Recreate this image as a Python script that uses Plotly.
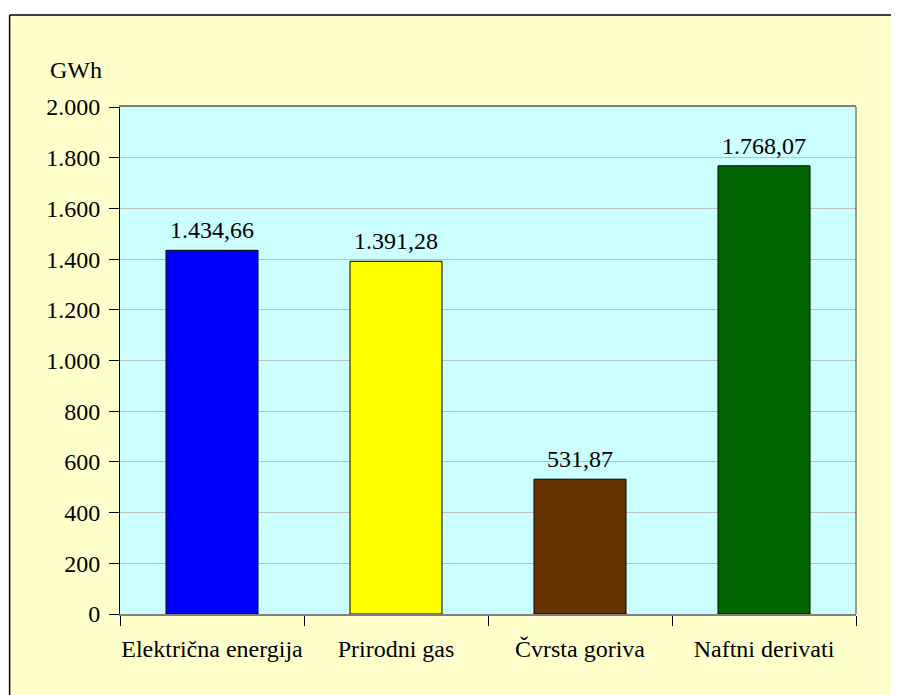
import plotly.graph_objects as go

categories = ["Električna energija", "Prirodni gas", "Čvrsta goriva", "Naftni derivati"]
values = [1434.66, 1391.28, 531.87, 1768.07]
bar_colors = ["#0000FF", "#FFFF00", "#663300", "#006600"]
y_ticks = list(range(0, 2001, 200))

FONT = "Liberation Serif, Times New Roman, serif"

fig = go.Figure()

fig.add_trace(go.Bar(
    x=categories,
    y=values,
    marker=dict(color=bar_colors, line=dict(color="#000000", width=1)),
    width=0.5,
    showlegend=False,
    hovertemplate="%{x}: %{y:,.2f} GWh<extra></extra>",
))

# value labels above the bars
for cat, val in zip(categories, values):
    fig.add_annotation(
        x=cat, y=val, text=f"{val:,.2f}".replace(",", " ").replace(".", ",").replace(" ", "."),
        xanchor="center", yanchor="bottom", yshift=5, showarrow=False,
        font=dict(family=FONT, size=24, color="#000000"),
    )

# white strips outside the chart frame (top and left), frame lines, plot bg
fig.add_shape(type="rect", xref="paper", yref="paper",
              x0=-0.5, x1=1.5, y0=1.1815, y1=1.5,
              fillcolor="#FFFFFF", line=dict(width=0), layer="below")
fig.add_shape(type="rect", xref="paper", yref="paper",
              x0=-0.5, x1=-0.150, y0=-0.5, y1=1.5,
              fillcolor="#FFFFFF", line=dict(width=0), layer="below")
fig.add_shape(type="line", xref="paper", yref="paper",
              x0=-0.150, x1=1.5, y0=1.1815, y1=1.1815,
              line=dict(color="#000000", width=1.5), layer="below")
fig.add_shape(type="line", xref="paper", yref="paper",
              x0=-0.150, x1=-0.150, y0=-0.5, y1=1.1815,
              line=dict(color="#000000", width=1.5), layer="below")
fig.add_shape(type="rect", xref="paper", yref="paper",
              x0=0, x1=1, y0=0, y1=1,
              fillcolor="#CCFFFF", line=dict(width=0),
              layer="below")

fig.add_annotation(text="GWh", xref="paper", yref="paper",
                   x=-0.06, y=1.073, xanchor="center", yanchor="middle",
                   showarrow=False, font=dict(family=FONT, size=24, color="#000000"))

# page has an 8px body margin, so the figure is shrunk and margins shifted
fig.update_layout(
    width=891, height=687,
    margin=dict(l=112, r=43, t=99, b=81, autoexpand=False),
    paper_bgcolor="#FFFFCC",
    plot_bgcolor="rgba(0,0,0,0)",
    separators=",.",
    font=dict(family=FONT, size=24, color="#000000"),
    bargap=0.5,
)

fig.update_xaxes(
    showline=True, linecolor="#808080", linewidth=1.5, mirror=True,
    ticks="outside", tickson="boundaries", ticklen=10, tickcolor="#000000",
    ticklabelstandoff=12, tickangle=0, automargin=False,
    showgrid=False,
    tickfont=dict(family=FONT, size=24, color="#000000"),
)
fig.update_yaxes(
    range=[0, 2000], tickvals=y_ticks, tickformat=",d",
    showline=True, linecolor="#000000", linewidth=1, mirror=False,
    ticks="outside", ticklen=10, tickcolor="#000000",
    ticklabelstandoff=4, automargin=False,
    showgrid=True, gridcolor="#BFBFBF", gridwidth=1,
    zeroline=False,
    tickfont=dict(family=FONT, size=24, color="#000000"),
)

# right border of plot area
fig.add_shape(type="line", xref="paper", yref="paper",
              x0=1, x1=1, y0=0, y1=1, line=dict(color="#404040", width=1))

fig.write_html("out.html")
